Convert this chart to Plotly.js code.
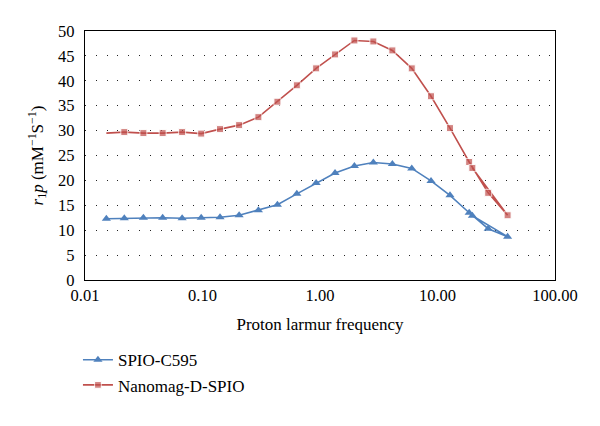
<!DOCTYPE html>
<html>
<head>
<meta charset="utf-8">
<script src="https://cdn.plot.ly/plotly-3.0.1.min.js"></script>
<style>html,body{margin:0;padding:0;background:#fff;}#chart{width:600px;height:426px;}</style>
</head>
<body>
<div id="chart"></div>
<script>
// Proton larmor frequency (MHz) and r1p values
var freqBlue = [0.0152, 0.0216, 0.0314, 0.0458, 0.0671, 0.0975, 0.141, 0.205, 0.299, 0.434, 0.635, 0.927, 1.343, 1.962, 2.845, 4.13, 6.04, 8.81, 12.77, 18.6, 27.0, 39.5, 19.8];
var r1pBlue  = [12.3, 12.4, 12.5, 12.5, 12.4, 12.5, 12.6, 13.0, 14.0, 15.1, 17.3, 19.5, 21.5, 22.9, 23.6, 23.3, 22.4, 19.9, 17.0, 13.5, 10.3, 8.7, 12.9];
var freqRed  = [0.0152, 0.0216, 0.0314, 0.0458, 0.0671, 0.0975, 0.141, 0.205, 0.299, 0.434, 0.635, 0.927, 1.343, 1.962, 2.845, 4.13, 6.04, 8.81, 12.77, 18.6, 27.0, 39.5, 19.8];
var r1pRed   = [29.5, 29.7, 29.5, 29.5, 29.7, 29.4, 30.3, 31.1, 32.7, 35.8, 39.1, 42.5, 45.3, 48.1, 47.9, 46.1, 42.5, 36.9, 30.5, 23.7, 17.5, 13.0, 22.5];
var xTickVals = [0.01, 0.1, 1, 10, 100];
var xTickText = ["0.01", "0.10", "1.00", "10.00", "100.00"];
var seriesNames = ["SPIO-C595", "Nanomag-D-SPIO"];

var FONT = "Liberation Serif, Times New Roman, serif";
var redSizes = freqRed.map(function(v, i){ return i === 0 ? 0 : 7; });

var traces = [
  {x: freqBlue, y: r1pBlue, name: seriesNames[0], type: "scatter", mode: "lines+markers",
   line: {color: "#4F81BD", width: 1.6}, marker: {symbol: "triangle-up", size: 8, color: "#4F81BD"}},
  {x: freqRed, y: r1pRed, name: seriesNames[1], type: "scatter", mode: "lines+markers",
   line: {color: "#C0504D", width: 1.6}, marker: {symbol: "square", size: redSizes, color: "#C0504D"}}
];

var layout = {
  width: 600, height: 426,
  margin: {l: 85, r: 45, t: 31, b: 146},
  paper_bgcolor: "#fff", plot_bgcolor: "#fff",
  font: {family: FONT, size: 16, color: "#000"},
  showlegend: true,
  legend: {x: -0.015, y: -0.25, xanchor: "left", yanchor: "top", orientation: "v",
           font: {family: FONT, size: 17, color: "#000"}, bgcolor: "rgba(0,0,0,0)", tracegroupgap: 0},
  xaxis: {type: "log", range: [-2, 2], tickvals: xTickVals, ticktext: xTickText,
          showgrid: false, zeroline: false, showline: true, linecolor: "#000", linewidth: 1.2, mirror: true,
          ticks: "", tickfont: {family: FONT, size: 16.5, color: "#000"},
          title: {text: "Proton larmur frequency", font: {family: FONT, size: 17, color: "#000"}, standoff: 14}},
  yaxis: {range: [0, 50], dtick: 5, tick0: 0, showgrid: true, gridcolor: "#222", gridwidth: 1, griddash: "1px,9.8px",
          zeroline: false, showline: true, linecolor: "#000", linewidth: 1.2, mirror: true,
          ticks: "", ticklabelstandoff: 6, tickfont: {family: FONT, size: 16.5, color: "#000"},
          title: {text: "<i>r</i><sub>1</sub><i>p</i> (mM<sup>\u22121</sup>S<sup>\u22121</sup>)", font: {family: FONT, size: 17, color: "#000"}, standoff: 10}}
};

Plotly.newPlot("chart", traces, layout, {displayModeBar: false, staticPlot: true});
</script>
</body>
</html>
